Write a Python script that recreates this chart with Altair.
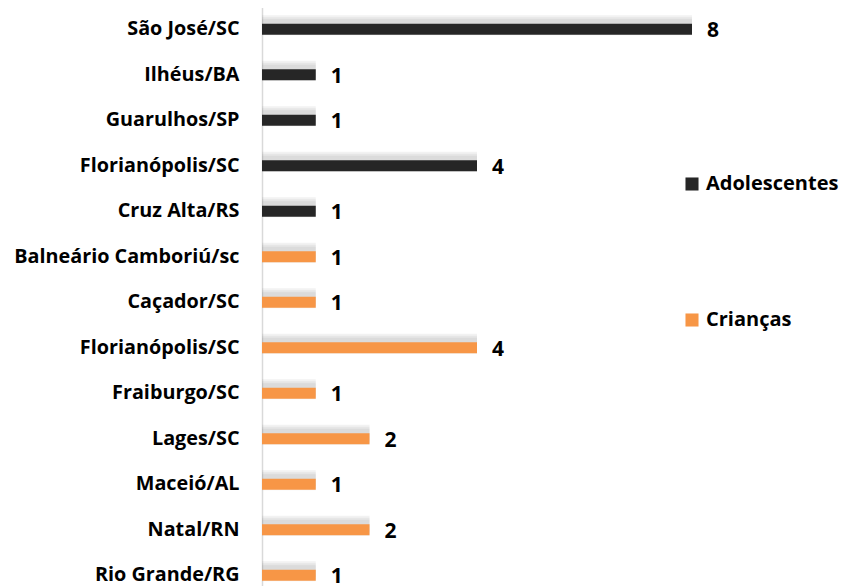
import altair as alt
import pandas as pd

labels = ["São José/SC", "Ilhéus/BA", "Guarulhos/SP", "Florianópolis/SC", "Cruz Alta/RS",
          "Balneário Camboriú/sc", "Caçador/SC", "Florianópolis/SC", "Fraiburgo/SC",
          "Lages/SC", "Maceió/AL", "Natal/RN", "Rio Grande/RG"]
values = [8, 1, 1, 4, 1, 1, 1, 4, 1, 2, 1, 2, 1]
groups = ["Adolescentes"] * 5 + ["Crianças"] * 8
series_names = ["Adolescentes", "Crianças"]
series_colors = ["#262626", "#F79646"]

df = pd.DataFrame({"idx": list(range(len(labels))), "label": labels,
                   "value": values, "grupo": groups})

label_expr = "[" + ",".join("'" + l + "'" for l in labels) + "][datum.value]"

FONT = "Open Sans"

y = alt.Y("idx:O", title=None,
          scale=alt.Scale(range=[-1.5, 590], paddingInner=0, paddingOuter=0),
          axis=alt.Axis(labelExpr=label_expr, labelFont=FONT, labelFontWeight="bold",
                        labelFontSize=19.8, labelColor="#000000", labelPadding=23,
                        ticks=False, domainColor="#d9d9d9", domainWidth=1.5,
                        labelLimit=400))
x = alt.X("value:Q", title=None, axis=None, scale=alt.Scale(domain=[0, 8]))

base = alt.Chart(df).encode(y=y, x=x)

shadows = [
    base.mark_bar(size=s, color="#808080", opacity=0.10, yOffset=-4, clip=False)
    for s in (20, 16, 12)
]

bars = base.mark_bar(size=11).encode(
    color=alt.Color("grupo:N", title=None,
                    scale=alt.Scale(domain=series_names, range=series_colors),
                    legend=alt.Legend(orient="none", legendX=420, legendY=166,
                                      symbolType="square", symbolSize=170,
                                      symbolStrokeWidth=0,
                                      labelFont=FONT, labelFontWeight="bold",
                                      labelFontSize=20, labelColor="#000000",
                                      rowPadding=116, labelOffset=4,
                                      labelLimit=300))
)

text = base.mark_text(align="left", baseline="middle", dx=15, dy=2, font=FONT,
                      fontWeight="bold", fontSize=21, color="#000000").encode(
    text="value:Q")

chart = alt.layer(*shadows, bars, text).properties(
    width=430, height=588,
    autosize=alt.AutoSizeParams(type="none"),
    padding={"left": 254, "top": 0, "right": 157, "bottom": 0},
).configure_view(stroke=None)

chart.save("out.html", embed_options={"renderer": "svg", "actions": False})
